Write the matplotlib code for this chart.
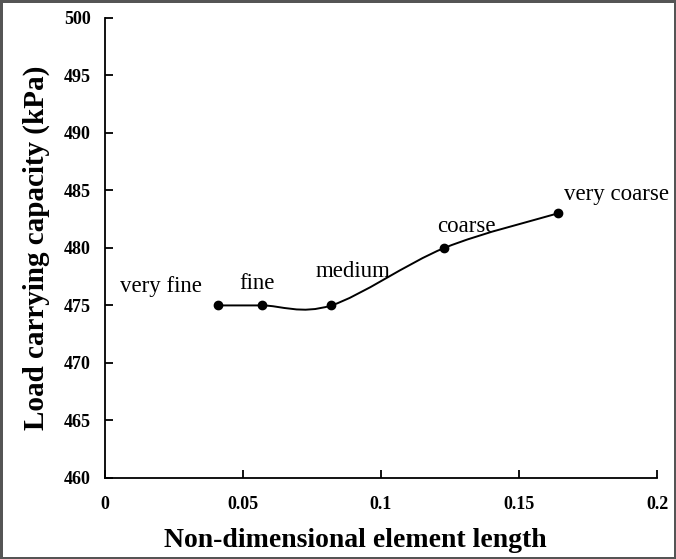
import numpy as np
import matplotlib.pyplot as plt
from matplotlib.path import Path
from matplotlib.patches import PathPatch

plt.rcParams["font.family"] = ["Liberation Serif", "DejaVu Serif"]

# 網格尺寸 vs 承載力
mesh_labels = ["very fine", "fine", "medium", "coarse", "very coarse"]
element_length = [0.041, 0.057, 0.082, 0.123, 0.164]
load_capacity = [475, 475, 475, 480, 483]
label_offsets = [(-57, 19), (-5, 22), (22, 34), (22, 21), (59, 19)]

fig = plt.figure(figsize=(6.76, 5.59), dpi=100)
fig.patch.set_edgecolor("#555555")
fig.patch.set_linewidth(2.5)
ax = fig.add_axes([0.155, 0.145, 0.817, 0.823])

# Excel 風格平滑曲線（Catmull-Rom → 三次 Bezier）
pts = np.column_stack([element_length, load_capacity]).astype(float)
n = len(pts)
verts = [pts[0]]
codes = [Path.MOVETO]
for i in range(n - 1):
    p0 = pts[max(i - 1, 0)]
    p1, p2 = pts[i], pts[i + 1]
    p3 = pts[min(i + 2, n - 1)]
    verts += [p1 + (p2 - p0) / 6, p2 - (p3 - p1) / 6, p2]
    codes += [Path.CURVE4] * 3
ax.add_patch(PathPatch(Path(verts, codes), fill=False, lw=1.4, color="black"))
ax.plot(element_length, load_capacity, "o", color="black", ms=6)

for lab, x, y, off in zip(mesh_labels, element_length, load_capacity, label_offsets):
    ax.annotate(lab, (x, y), xytext=off, textcoords="offset pixels",
                ha="center", va="center", fontsize=16.5)

ax.set_xlim(0, 0.2)
ax.set_ylim(460, 500)
ax.set_xticks([0, 0.05, 0.1, 0.15, 0.2])
ax.set_xticklabels(["0", "0.05", "0.1", "0.15", "0.2"])
ax.set_yticks(range(460, 501, 5))
for s in ["top", "right"]:
    ax.spines[s].set_visible(False)
for s in ["left", "bottom"]:
    ax.spines[s].set_linewidth(1.3)
ax.tick_params(direction="in", length=5.5, width=1.3, labelsize=13)
ax.tick_params(axis="x", pad=13)
ax.tick_params(axis="y", pad=10)
for t in ax.get_xticklabels() + ax.get_yticklabels():
    t.set_fontweight("bold")

ax.set_xlabel("Non-dimensional element length", fontsize=20, fontweight="bold")
ax.set_ylabel("Load carrying capacity (kPa)", fontsize=21, fontweight="bold", labelpad=10)
ax.xaxis.set_label_coords(0.453, -0.108)

fig.savefig("out.png", dpi=100)
